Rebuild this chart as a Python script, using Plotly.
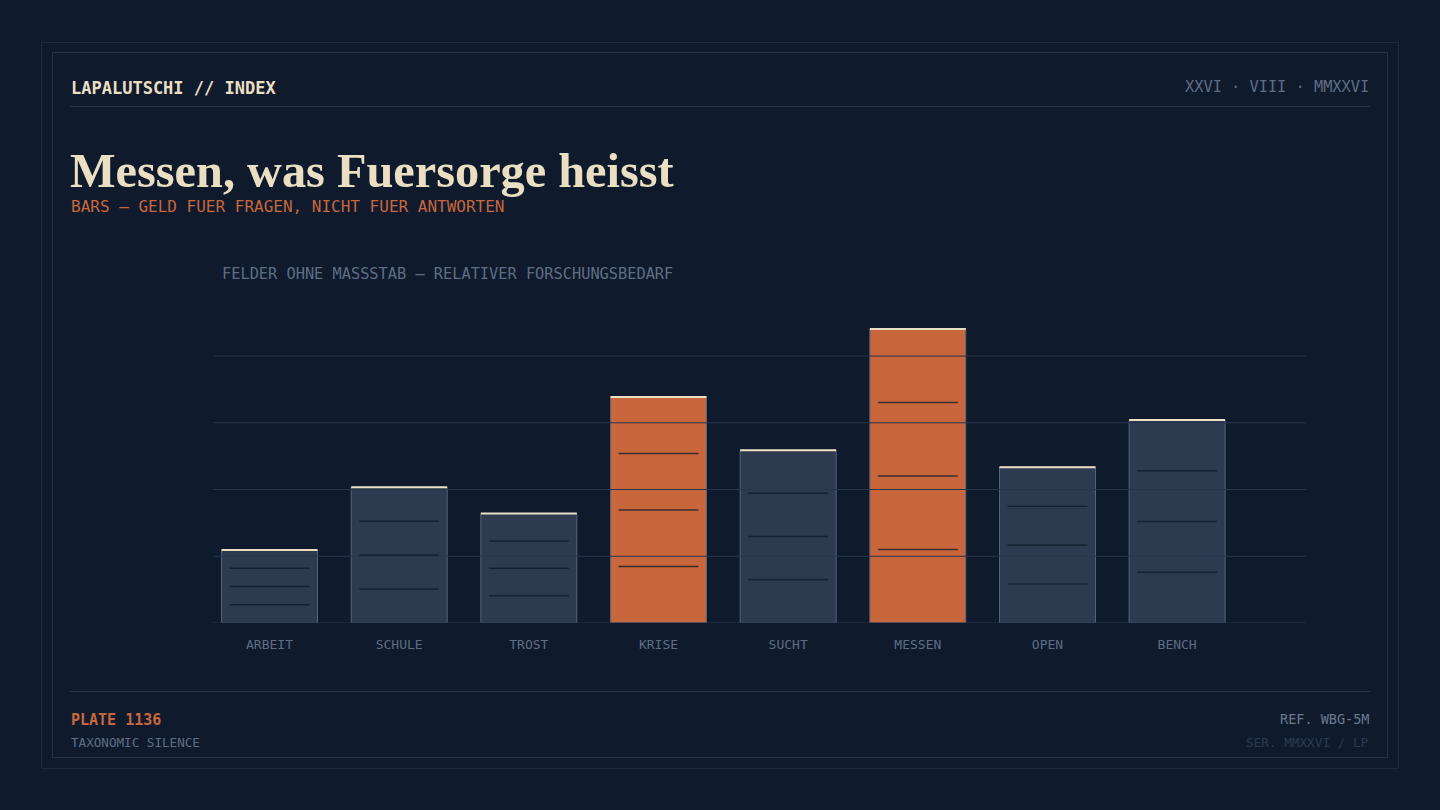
import plotly.graph_objects as go

# ---- data ----
categories = ["ARBEIT", "SCHULE", "TROST", "KRISE", "SUCHT", "MESSEN", "OPEN", "BENCH"]
values = [21.9, 40.7, 32.8, 67.7, 51.8, 88.1, 46.7, 60.8]
highlighted = ["KRISE", "MESSEN"]
grid_values = [20, 40, 60, 80]

# ---- style ----
W, H = 1440, 810
BG = "#0f1b2d"
FRAME = "#243148"
CREAM = "#ebdfc3"
ORANGE = "#c8663c"
BAR = "#2d3a50"
BAR_EDGE = "#56657c"
MUTED = "#5f6d84"
GRID = "#28364c"
MONO = "DejaVu Sans Mono, Liberation Mono, monospace"
SERIF = "Liberation Serif, DejaVu Serif, serif"

BAR_W = 0.74


def px(x):
    return x / W


def py(y):
    return 1 - y / H


xs = list(range(len(categories)))
colors = [ORANGE if c in highlighted else BAR for c in categories]

fig = go.Figure()
fig.add_trace(go.Bar(
    x=xs, y=values, width=BAR_W,
    marker=dict(color=colors, line=dict(color=BAR_EDGE, width=1)),
    hoverinfo="skip", showlegend=False,
))

shapes = []
# outer frames
shapes.append(dict(type="rect", xref="paper", yref="paper", x0=px(41.5), x1=px(1398.5), y0=py(42.5), y1=py(768.5),
                   line=dict(color="#1d2a3e", width=1), fillcolor="rgba(0,0,0,0)", layer="below"))
shapes.append(dict(type="rect", xref="paper", yref="paper", x0=px(52.5), x1=px(1387.5), y0=py(52.5), y1=py(757.5),
                   line=dict(color=FRAME, width=1), fillcolor="rgba(0,0,0,0)", layer="below"))
# header / footer rules
for yy in (106.5, 691.5):
    shapes.append(dict(type="line", xref="paper", yref="paper", x0=px(70), x1=px(1370), y0=py(yy), y1=py(yy),
                       line=dict(color=FRAME, width=1)))
# gridlines over bars
for g in grid_values:
    shapes.append(dict(type="line", xref="x domain", yref="y", x0=0, x1=1, y0=g, y1=g,
                       line=dict(color=GRID, width=1), layer="above"))
shapes.append(dict(type="line", xref="x domain", yref="y", x0=0, x1=1, y0=0, y1=0,
                   line=dict(color=GRID, width=1), layer="above"))
# inner dividers and cream caps
inset = 0.062
for x, v in zip(xs, values):
    for k in (1, 2, 3):
        yv = v * k / 4
        shapes.append(dict(type="line", xref="x", yref="y", x0=x - BAR_W / 2 + inset, x1=x + BAR_W / 2 - inset,
                           y0=yv, y1=yv, line=dict(color="rgba(16,26,42,0.75)", width=1.5), layer="above"))
    shapes.append(dict(type="line", xref="x", yref="y", x0=x - BAR_W / 2, x1=x + BAR_W / 2,
                       y0=v, y1=v, line=dict(color=CREAM, width=2), layer="above"))

annotations = [
    dict(text="<b>LAPALUTSCHI // INDEX</b>", x=px(70), y=py(88), xanchor="left", yanchor="middle",
         font=dict(family=MONO, size=17, color=CREAM)),
    dict(text="XXVI · VIII · MMXXVI", x=px(1370), y=py(87), xanchor="right", yanchor="middle",
         font=dict(family=MONO, size=15.3, color=MUTED)),
    dict(text="<b>Messen, was Fuersorge heisst</b>", x=px(69), y=py(170), xanchor="left", yanchor="middle",
         font=dict(family=SERIF, size=48.3, color=CREAM)),
    dict(text="BARS — GELD FUER FRAGEN, NICHT FUER ANTWORTEN", x=px(70), y=py(206), xanchor="left", yanchor="middle",
         font=dict(family=MONO, size=16, color=ORANGE)),
    dict(text="FELDER OHNE MASSSTAB — RELATIVER FORSCHUNGSBEDARF", x=px(221), y=py(274), xanchor="left",
         yanchor="middle", font=dict(family=MONO, size=15.3, color=MUTED)),
    dict(text="<b>PLATE 1136</b>", x=px(70), y=py(720), xanchor="left", yanchor="middle",
         font=dict(family=MONO, size=15, color=ORANGE)),
    dict(text="TAXONOMIC SILENCE", x=px(70), y=py(742), xanchor="left", yanchor="middle",
         font=dict(family=MONO, size=12.6, color=MUTED)),
    dict(text="REF. WBG-5M", x=px(1370), y=py(719), xanchor="right", yanchor="middle",
         font=dict(family=MONO, size=13.5, color="#6a788e")),
    dict(text="SER. MMXXVI / LP", x=px(1370), y=py(742), xanchor="right", yanchor="middle",
         font=dict(family=MONO, size=12.7, color="#2c3a50")),
]
for a in annotations:
    a.update(xref="paper", yref="paper", showarrow=False, borderpad=0)

fig.update_layout(
    width=W, height=H,
    margin=dict(l=0, r=0, t=0, b=0),
    paper_bgcolor=BG, plot_bgcolor=BG,
    shapes=shapes, annotations=annotations,
    bargap=0.26,
    xaxis=dict(domain=[px(213), px(1306)], range=[-0.436, 7.994], tickvals=xs, ticktext=categories,
               showgrid=False, zeroline=False, showline=False, ticks="", ticklabelstandoff=12,
               tickfont=dict(family=MONO, size=13, color=MUTED), fixedrange=True),
    yaxis=dict(domain=[py(623), py(300)], range=[0, 96.8], showgrid=False, zeroline=False,
               showticklabels=False, showline=False, fixedrange=True),
)

fig.write_html(
    "out.html",
    config={"displayModeBar": False},
    post_script="document.body.style.margin='0';document.body.style.overflow='hidden';"
                "document.body.style.background='" + BG + "';",
)
